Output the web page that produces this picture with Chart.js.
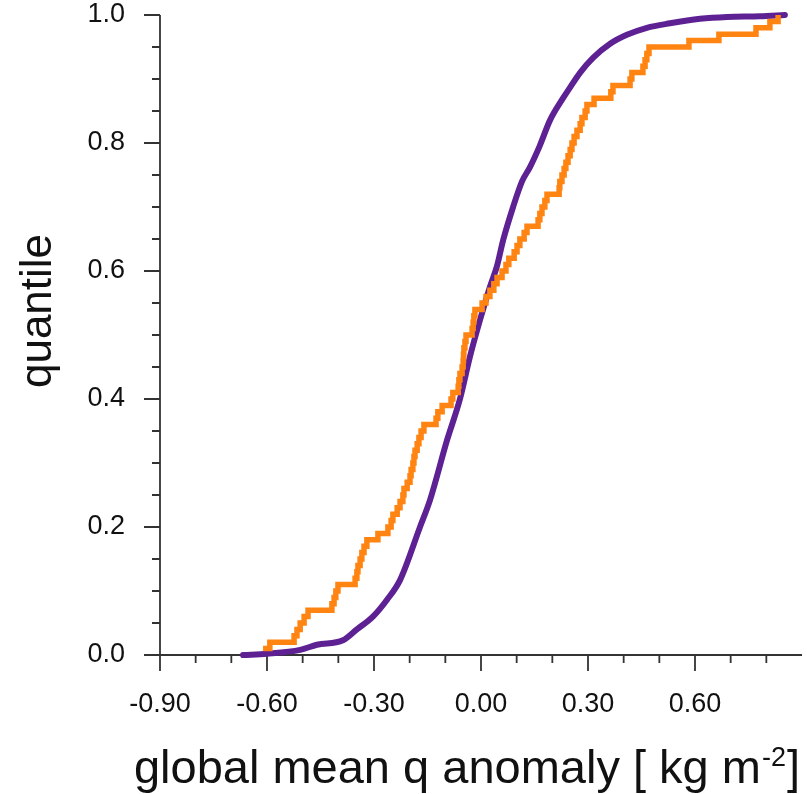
<!DOCTYPE html>
<html><head><meta charset="utf-8">
<script src="https://cdn.jsdelivr.net/npm/chart.js@4.4.0/dist/chart.umd.min.js"></script>
<style>html,body{margin:0;padding:0;background:#fff}#wrap{width:807px;height:794px;position:relative}</style>
</head><body><div id="wrap"><canvas id="c" width="807" height="794"></canvas></div>
<script>
// ---- data ----
const xTickValues = [-0.9, -0.6, -0.3, 0.0, 0.3, 0.6];
const xMinorValues = [-0.8, -0.7, -0.5, -0.4, -0.2, -0.1, 0.1, 0.2, 0.4, 0.5, 0.7, 0.8];
const yTickValues = [0.0, 0.2, 0.4, 0.6, 0.8, 1.0];
const yMinorValues = [0.05, 0.1, 0.15, 0.25, 0.3, 0.35, 0.45, 0.5, 0.55, 0.65, 0.7, 0.75, 0.85, 0.9, 0.95];

const purpleX = [-0.667,-0.600,-0.507,-0.460,-0.387,-0.348,-0.303,-0.264,-0.227,-0.171,-0.143,-0.095,-0.059,-0.031,-0.003,0.025,0.045,0.062,0.090,0.115,0.137,0.165,0.193,0.230,0.250,0.278,0.314,0.362,0.409,0.465,0.530,0.614,0.690,0.782,0.852];
const purpleY = [0.000,0.002,0.008,0.016,0.023,0.040,0.060,0.086,0.117,0.200,0.242,0.336,0.400,0.466,0.523,0.575,0.608,0.648,0.700,0.740,0.762,0.796,0.835,0.870,0.887,0.910,0.933,0.955,0.969,0.980,0.987,0.994,0.997,0.998,1.000];

const orangeX = [-0.611,-0.592,-0.524,-0.516,-0.507,-0.496,-0.485,-0.418,-0.412,-0.407,
  -0.401,-0.353,-0.348,-0.345,-0.339,-0.334,-0.328,-0.320,-0.289,-0.261,
  -0.252,-0.247,-0.235,-0.227,-0.219,-0.216,-0.207,-0.199,-0.196,-0.191,
  -0.188,-0.185,-0.179,-0.174,-0.168,-0.160,-0.126,-0.121,-0.109,-0.084,
  -0.079,-0.064,-0.062,-0.059,-0.053,-0.050,-0.049,-0.048,-0.045,-0.042,
  -0.025,-0.022,-0.020,-0.017,0.003,0.014,0.025,0.036,0.045,0.059,
  0.070,0.078,0.093,0.101,0.109,0.121,0.129,0.160,0.165,0.171,
  0.179,0.185,0.219,0.221,0.227,0.233,0.238,0.244,0.250,0.255,
  0.261,0.269,0.278,0.283,0.292,0.297,0.317,0.364,0.370,0.418,
  0.423,0.454,0.460,0.465,0.471,0.583,0.667,0.771,0.810,0.833];
const orangeY = [0.01,0.02,0.03,0.04,0.05,0.06,0.07,0.08,0.09,0.10,
  0.11,0.12,0.13,0.14,0.15,0.16,0.17,0.18,0.19,0.20,
  0.21,0.22,0.23,0.24,0.25,0.26,0.27,0.28,0.29,0.30,
  0.31,0.32,0.33,0.34,0.35,0.36,0.37,0.38,0.39,0.40,
  0.41,0.42,0.43,0.44,0.45,0.46,0.47,0.48,0.49,0.50,
  0.51,0.52,0.53,0.54,0.55,0.56,0.57,0.58,0.59,0.60,
  0.61,0.62,0.63,0.64,0.65,0.66,0.67,0.68,0.69,0.70,
  0.71,0.72,0.73,0.74,0.75,0.76,0.77,0.78,0.79,0.80,
  0.81,0.82,0.83,0.84,0.85,0.86,0.87,0.88,0.89,0.90,
  0.91,0.92,0.93,0.94,0.95,0.96,0.97,0.98,0.99,1.00];

const xTitleMain = 'global mean q anomaly [ kg m';
const xTitleSup = '-2';
const xTitleEnd = ']';
const yTitle = 'quantile';

// ---- chart ----
const FONT = '"Liberation Sans", Arial, Helvetica, sans-serif';
const AXIS_COLOR = '#333333';

const decor = {
  id: 'decor',
  beforeDatasetsDraw(chart) {
    const {ctx, scales: {x, y}} = chart;
    const y0 = y.getPixelForValue(0);
    const x0 = x.getPixelForValue(-0.9);
    ctx.save();
    ctx.strokeStyle = AXIS_COLOR;
    ctx.lineWidth = 1.8;
    ctx.lineCap = 'butt';
    ctx.beginPath();
    ctx.moveTo(x0, y.getPixelForValue(1.0));
    ctx.lineTo(x0, y0);
    ctx.lineTo(x.getPixelForValue(0.9), y0);
    xTickValues.forEach(v => { const p = x.getPixelForValue(v); ctx.moveTo(p, y0); ctx.lineTo(p, y0 + 16); });
    xMinorValues.forEach(v => { const p = x.getPixelForValue(v); ctx.moveTo(p, y0); ctx.lineTo(p, y0 + 8); });
    yTickValues.forEach(v => { const p = y.getPixelForValue(v); ctx.moveTo(x0, p); ctx.lineTo(x0 - 16, p); });
    yMinorValues.forEach(v => { const p = y.getPixelForValue(v); ctx.moveTo(x0, p); ctx.lineTo(x0 - 8, p); });
    ctx.stroke();
    ctx.restore();
  },
  afterDraw(chart) {
    const ctx = chart.ctx;
    ctx.save();
    ctx.fillStyle = '#111111';
    const big = 47, small = 27;
    ctx.textBaseline = 'alphabetic';
    ctx.font = big + 'px ' + FONT;
    const w1 = ctx.measureText(xTitleMain).width;
    const w3 = ctx.measureText(xTitleEnd).width;
    ctx.font = small + 'px ' + FONT;
    const w2 = ctx.measureText(xTitleSup).width;
    const right = 800, base = 783;
    const sx = right - (w1 + w2 + w3 + 2);
    ctx.textAlign = 'left';
    ctx.font = big + 'px ' + FONT;
    ctx.fillText(xTitleMain, sx, base);
    ctx.font = small + 'px ' + FONT;
    ctx.fillText(xTitleSup, sx + w1 + 1, base - 17);
    ctx.font = big + 'px ' + FONT;
    ctx.fillText(xTitleEnd, sx + w1 + w2 + 2, base);
    ctx.translate(51, 311);
    ctx.rotate(-Math.PI / 2);
    ctx.textAlign = 'center';
    ctx.font = '44px ' + FONT;
    ctx.fillText(yTitle, 0, 0);
    ctx.restore();
  }
};

new Chart(document.getElementById('c'), {
  type: 'scatter',
  data: {
    datasets: [
      {
        label: 'orange',
        data: orangeX.map((v, i) => ({x: v, y: orangeY[i]})),
        showLine: true,
        stepped: 'before',
        borderColor: '#ff8411',
        borderWidth: 5.5,
        borderCapStyle: 'butt',
        borderJoinStyle: 'miter',
        pointRadius: 0,
        clip: false,
        order: 0
      },
      {
        label: 'purple',
        data: purpleX.map((v, i) => ({x: v, y: purpleY[i]})),
        showLine: true,
        cubicInterpolationMode: 'monotone',
        borderColor: '#5e2193',
        borderWidth: 6,
        borderCapStyle: 'round',
        borderJoinStyle: 'round',
        pointRadius: 0,
        clip: false,
        order: 1
      }
    ]
  },
  options: {
    responsive: false,
    animation: false,
    devicePixelRatio: 1,
    layout: {padding: {left: 0, right: 5, top: 15, bottom: 0}},
    plugins: {legend: {display: false}, tooltip: {enabled: false}},
    scales: {
      x: {
        type: 'linear', min: -0.9, max: 0.9,
        grid: {display: false, drawTicks: false},
        border: {display: false},
        afterBuildTicks: s => { s.ticks = xTickValues.map(v => ({value: v})); },
        afterFit: s => { s.height = 139; s.paddingLeft = 0; s.paddingRight = 0; },
        ticks: {
          padding: 33, maxRotation: 0, autoSkip: false,
          color: '#111111', font: {family: FONT, size: 27},
          callback: v => Number(v).toFixed(2)
        }
      },
      y: {
        type: 'linear', min: 0, max: 1,
        grid: {display: false, drawTicks: false},
        border: {display: false},
        afterBuildTicks: s => { s.ticks = yTickValues.map(v => ({value: v})); },
        afterFit: s => { s.width = 160; s.paddingTop = 0; s.paddingBottom = 0; },
        ticks: {
          padding: 35, autoSkip: false,
          color: '#111111', font: {family: FONT, size: 27},
          callback: v => Number(v).toFixed(1)
        }
      }
    }
  },
  plugins: [decor]
});
</script>
</body></html>
